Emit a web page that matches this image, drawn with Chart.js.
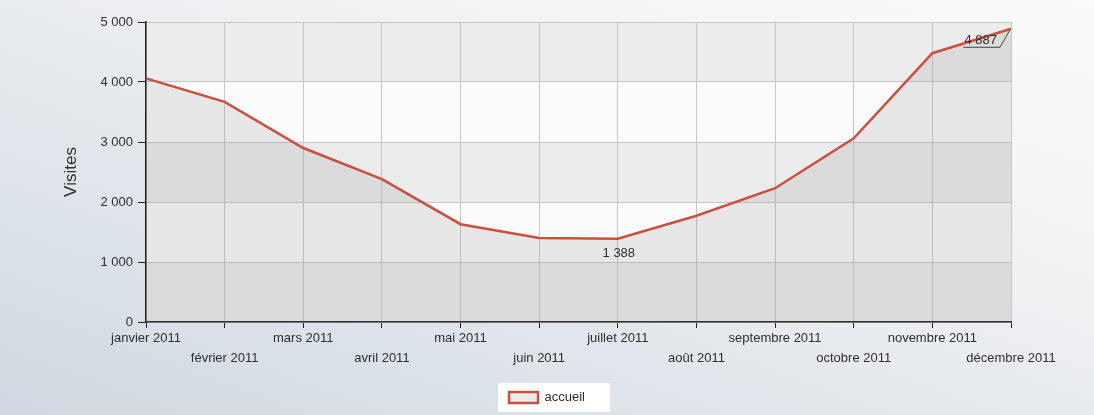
<!DOCTYPE html>
<html>
<head>
<meta charset="utf-8">
<script src="https://cdn.jsdelivr.net/npm/chart.js@4"></script>
<style>
  html, body { margin: 0; padding: 0; }
  body {
    width: 1094px;
    height: 415px;
    background: linear-gradient(200deg, #fbfbfb 0%, #eef0f2 40%, #dce2e9 75%, #d0d8e1 100%);
    overflow: hidden;
  }
  #wrap { width: 1094px; height: 415px; position: relative; }
</style>
</head>
<body>
<div id="wrap"><canvas id="visits"></canvas></div>
<script>
const months = [
  'janvier 2011', 'février 2011', 'mars 2011', 'avril 2011',
  'mai 2011', 'juin 2011', 'juillet 2011', 'août 2011',
  'septembre 2011', 'octobre 2011', 'novembre 2011', 'décembre 2011'
]
const visits = [4060, 3670, 2900, 2380, 1630, 1400, 1388, 1770, 2230, 3060, 4480, 4887]
const yTicks = [0, 1000, 2000, 3000, 4000, 5000]
const seriesName = 'accueil'
const yTitle = 'Visites'

const FONT = '"Liberation Sans", Arial, sans-serif'
const TEXT = '#2e2e2e'
const LINE = '#c9513e'

// nombre avec espace comme séparateur de milliers
function fmt(v) {
  return String(v).replace(/\B(?=(\d{3})+(?!\d))/g, ' ')
}

// étiquettes en quinconce : une sur deux descend d'une ligne
const xLabels = months.map((m, i) => (i % 2 === 1 ? ['', m] : m))

// bandes alternées derrière la zone de tracé
const bandsPlugin = {
  id: 'bands',
  beforeDraw(chart) {
    const { ctx, chartArea: a, scales: { y } } = chart
    ctx.save()
    for (let i = 0; i < yTicks.length - 1; i++) {
      const top = y.getPixelForValue(yTicks[i + 1])
      const bottom = y.getPixelForValue(yTicks[i])
      ctx.fillStyle = i % 2 === 0 ? '#ececec' : '#fbfbfb'
      ctx.fillRect(a.left, top, a.right - a.left, bottom - top)
    }
    // fond blanc de la légende
    const box = chart.legend && chart.legend.legendHitBoxes && chart.legend.legendHitBoxes[0]
    if (box) {
      ctx.fillStyle = '#ffffff'
      ctx.fillRect(box.left - 11, box.top - 8, box.width + 36, box.height + 16)
    }
    ctx.restore()
  }
}

// valeurs mini et maxi affichées sur la courbe
const valueLabelsPlugin = {
  id: 'valueLabels',
  afterDatasetsDraw(chart) {
    const { ctx } = chart
    const pts = chart.getDatasetMeta(0).data
    const minIdx = visits.indexOf(Math.min(...visits))
    const maxIdx = visits.indexOf(Math.max(...visits))
    ctx.save()
    ctx.font = '13px ' + FONT
    ctx.fillStyle = TEXT

    const pMin = pts[minIdx]
    ctx.textAlign = 'center'
    ctx.textBaseline = 'middle'
    ctx.fillText(fmt(visits[minIdx]), pMin.x + 1, pMin.y + 15)

    const pMax = pts[maxIdx]
    const txt = fmt(visits[maxIdx])
    const tw = ctx.measureText(txt).width
    const tx = pMax.x - 14
    ctx.textAlign = 'right'
    ctx.fillText(txt, tx, pMax.y + 12)
    ctx.strokeStyle = '#444444'
    ctx.lineWidth = 1
    ctx.beginPath()
    ctx.moveTo(tx - tw - 1, pMax.y + 18.5)
    ctx.lineTo(pMax.x - 11, pMax.y + 18.5)
    ctx.lineTo(pMax.x - 1, pMax.y + 1)
    ctx.stroke()
    ctx.restore()
  }
}

const ctx = document.getElementById('visits')

new Chart(ctx, {
  type: 'line',
  data: {
    labels: xLabels,
    datasets: [
      {
        label: seriesName,
        data: visits,
        borderColor: LINE,
        borderWidth: 2.5,
        backgroundColor: 'rgba(128, 128, 128, 0.16)',
        fill: 'origin',
        tension: 0,
        pointRadius: 0,
        pointHoverRadius: 0,
      },
    ],
  },
  options: {
    responsive: true,
    maintainAspectRatio: false,
    animation: false,
    layout: {
      padding: { top: 22, right: 0, left: 0, bottom: 1 },
    },
    scales: {
      x: {
        offset: false,
        grid: {
          color: '#c6c6c6',
          tickColor: '#222222',
          tickLength: 6,
          lineWidth: 1,
        },
        border: { color: '#222222', width: 1.5 },
        ticks: {
          autoSkip: false,
          maxRotation: 0,
          minRotation: 0,
          padding: 0,
          color: TEXT,
          font: { family: FONT, size: 13, lineHeight: 1.54 },
        },
        afterFit(scale) {
          scale.height = 45
        },
      },
      y: {
        min: 0,
        max: 5000,
        afterBuildTicks(scale) {
          scale.ticks = yTicks.map(v => ({ value: v }))
        },
        grid: {
          color: '#c6c6c6',
          tickColor: '#222222',
          tickLength: 8,
          lineWidth: 1,
        },
        border: { color: '#222222', width: 1.5 },
        ticks: {
          padding: 5,
          color: TEXT,
          font: { family: FONT, size: 13 },
          callback: v => fmt(v),
        },
        title: {
          display: true,
          text: yTitle,
          color: TEXT,
          font: { family: FONT, size: 17 },
          padding: { top: 61, bottom: 0 },
        },
        afterFit(scale) {
          scale.width = 146
        },
      },
      // axe vide à droite : réserve la marge sans décaler la légende
      right: {
        position: 'right',
        display: true,
        grid: { display: false, drawOnChartArea: false },
        border: { display: false },
        ticks: { display: false },
        afterFit(scale) {
          scale.width = 83
        },
      },
    },
    plugins: {
      legend: {
        position: 'bottom',
        labels: {
          boxWidth: 29,
          boxHeight: 11,
          padding: 24,
          color: TEXT,
          font: { family: FONT, size: 13 },
        },
      },
      tooltip: { enabled: false },
    },
  },
  plugins: [bandsPlugin, valueLabelsPlugin],
})
</script>
</body>
</html>
